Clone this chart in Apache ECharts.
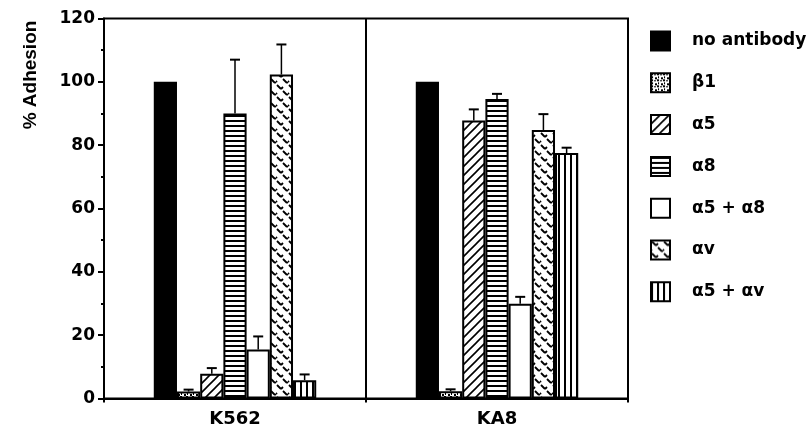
<!DOCTYPE html>
<html lang="en">
<head>
<meta charset="UTF-8">
<title>% Adhesion</title>
<script src="https://cdn.jsdelivr.net/npm/echarts@6/dist/echarts.min.js"></script>
<style>
    html, body { margin: 0; padding: 0; background: #fff; }
    #main { width: 807px; height: 438px; }
</style>
</head>
<body>
<div id="main"></div>
<script>
    // categories
    var cellLines = ['K562', 'KA8'];
    var antibodies = ['no antibody', 'β1', 'α5', 'α8', 'α5 + α8', 'αv', 'α5 + αv'];

    // % adhesion, [K562, KA8]
    var noAntibody = [100, 100];
    var beta1 = [2.2, 2.3];
    var alpha5 = [7.8, 87.8];
    var alpha8 = [90, 94.6];
    var alpha5alpha8 = [15.5, 29.9];
    var alphaV = [102.3, 84.8];
    var alpha5alphaV = [5.8, 77.5];

    // error (upper only), [K562, KA8]
    var errNoAntibody = [0, 0];
    var errBeta1 = [0.6, 0.6];
    var errAlpha5 = [1.8, 3.5];
    var errAlpha8 = [17, 1.6];
    var errAlpha5alpha8 = [4.1, 2.2];
    var errAlphaV = [9.5, 5];
    var errAlpha5alphaV = [1.8, 1.7];

    var yMin = 0, yMax = 120, yStep = 20;

    var values = [noAntibody, beta1, alpha5, alpha8, alpha5alpha8, alphaV, alpha5alphaV];
    var errors = [errNoAntibody, errBeta1, errAlpha5, errAlpha8, errAlpha5alpha8, errAlphaV, errAlpha5alphaV];

    var GAP = 0.38;

    // fill patterns drawn on small canvases
    function tile(w, h, draw) {
        var c = document.createElement('canvas');
        c.width = w; c.height = h;
        var ctx = c.getContext('2d');
        ctx.fillStyle = '#fff';
        ctx.fillRect(0, 0, w, h);
        ctx.fillStyle = '#000';
        ctx.strokeStyle = '#000';
        draw(ctx);
        return {image: c, repeat: 'repeat'};
    }

    var fills = [
        '#000',
        tile(6, 6, function (ctx) {
            ctx.fillRect(0, 0, 2, 2);
            ctx.fillRect(3, 1, 2, 1);
            ctx.fillRect(1, 3, 1, 2);
            ctx.fillRect(4, 4, 2, 2);
        }),
        tile(9, 9, function (ctx) {
            ctx.lineWidth = 1.6;
            ctx.beginPath();
            ctx.moveTo(-1, 10); ctx.lineTo(10, -1);
            ctx.moveTo(-2, 2); ctx.lineTo(2, -2);
            ctx.moveTo(7, 11); ctx.lineTo(11, 7);
            ctx.stroke();
        }),
        tile(4, 5, function (ctx) {
            ctx.fillRect(0, 0, 4, 2);
        }),
        '#fff',
        tile(12, 12, function (ctx) {
            ctx.lineWidth = 1.8;
            ctx.beginPath();
            ctx.moveTo(1, 1); ctx.lineTo(5, 5);
            ctx.moveTo(5, 5); ctx.lineTo(7, 3);
            ctx.moveTo(7, 7); ctx.lineTo(11, 11);
            ctx.moveTo(11, 11); ctx.lineTo(12, 10);
            ctx.moveTo(0, 10); ctx.lineTo(1, 9);
            ctx.stroke();
        }),
        tile(6, 4, function (ctx) {
            ctx.fillRect(0, 0, 2, 4);
        })
    ];

    var series = [];
    for (var s = 0; s < antibodies.length; s++) {
        series.push({
            name: antibodies[s],
            type: 'bar',
            barGap: 0,
            barCategoryGap: (GAP * 100) + '%',
            data: values[s],
            itemStyle: {color: fills[s], borderColor: '#000', borderWidth: 2}
        });
    }

    var errorData = [];
    for (var s = 0; s < antibodies.length; s++) {
        for (var c = 0; c < cellLines.length; c++) {
            errorData.push([c, values[s][c], values[s][c] + errors[s][c], s]);
        }
    }

    series.push({
        name: 'error',
        type: 'custom',
        z: 5,
        data: errorData,
        encode: {x: 0, y: 2},
        renderItem: function (params, api) {
            if (api.value(2) <= api.value(1)) return;
            var c = api.value(0);
            var band = api.size([1, 0])[0];
            var groupW = band * (1 - GAP);
            var bw = groupW / antibodies.length;
            var x = api.coord([c, 0])[0] - groupW / 2 + (api.value(3) + 0.5) * bw;
            var yTop = api.coord([c, api.value(1)])[1];
            var yErr = api.coord([c, api.value(2)])[1];
            return {
                type: 'group',
                children: [
                    {type: 'line', shape: {x1: x, y1: yTop, x2: x, y2: yErr}, style: {stroke: '#000', lineWidth: 1.5}},
                    {type: 'line', shape: {x1: x - 5, y1: yErr, x2: x + 5, y2: yErr}, style: {stroke: '#000', lineWidth: 2}}
                ]
            };
        }
    });

    var myChart = echarts.init(document.getElementById('main'));
    var option = {
        animation: false,
        backgroundColor: '#fff',
        grid: {
            left: 104, top: 18.5, right: 179, height: 380,
            show: true, borderColor: '#000', borderWidth: 2
        },
        legend: {
            data: antibodies,
            orient: 'vertical',
            left: 650,
            top: 30.5,
            padding: 0,
            itemWidth: 19,
            itemHeight: 19,
            itemGap: 20.8,
            icon: 'rect',
            textStyle: {
                fontFamily: 'DejaVu Sans', fontWeight: 'bold', fontSize: 17,
                color: '#000', padding: [0, 0, 0, 17]
            }
        },
        graphic: [{
            type: 'text',
            x: 31, y: 75,
            rotation: Math.PI / 2,
            style: {
                text: '% Adhesion',
                font: 'bold 19px "Liberation Sans"',
                fill: '#000',
                textAlign: 'center',
                textVerticalAlign: 'middle'
            }
        }],
        xAxis: {
            type: 'category',
            data: cellLines,
            axisLine: {lineStyle: {color: '#000', width: 2}},
            axisTick: {show: true, length: 4, lineStyle: {color: '#000', width: 2}},
            splitLine: {show: true, lineStyle: {color: '#000', width: 2}},
            axisLabel: {
                margin: 12, color: '#000',
                fontFamily: 'DejaVu Sans', fontWeight: 'bold', fontSize: 18
            }
        },
        yAxis: {
            type: 'value',
            min: yMin, max: yMax, interval: yStep,
            axisLine: {show: true, lineStyle: {color: '#000', width: 2}},
            axisTick: {show: true, length: 6, lineStyle: {color: '#000', width: 2}},
            minorTick: {show: true, splitNumber: 2, length: 3, lineStyle: {color: '#000', width: 2}},
            splitLine: {show: false},
            axisLabel: {
                margin: 9, color: '#000',
                fontFamily: 'DejaVu Sans', fontWeight: 'bold', fontSize: 17
            }
        },
        series: series
    };
    myChart.setOption(option);
</script>
</body>
</html>
